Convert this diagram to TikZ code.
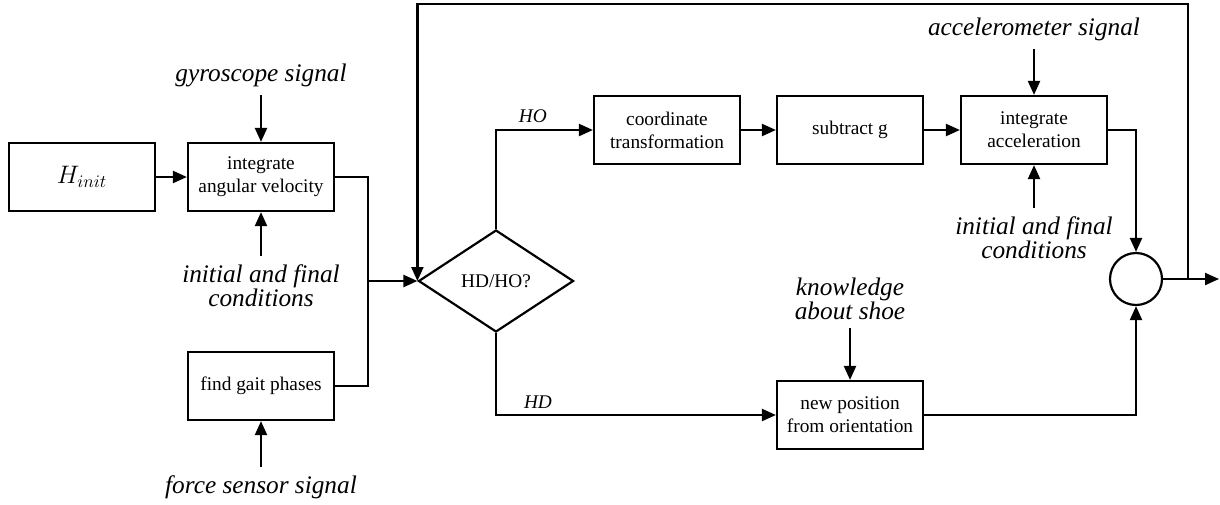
\documentclass[tikz,border=0pt]{standalone}
\usepackage{fontspec}
\setmainfont{Liberation Serif}
\usepackage{tikz}
\usetikzlibrary{arrows.meta, shapes.geometric, positioning}
\tikzset{
  blk/.style={draw, line width=1.25pt, minimum width=29.2mm, minimum height=13.6mm,
    align=center, font=\fontsize{11}{13}\selectfont},
  sig/.style={align=center, inner sep=1.6mm, font=\itshape\fontsize{14.4}{13.8}\selectfont},
  arr/.style={line width=1.25pt, -{Triangle[length=2.8mm, width=2.4mm]}},
  wire/.style={line width=1.25pt}
}

\begin{document}
\begin{tikzpicture}[x=0.2mm, y=-0.2mm]
\useasboundingbox (0,0) rectangle (1220,504);

% Orientation part
\node[blk] (hinit) at (82,177) {\fontsize{14}{16}\selectfont$H_{init}$};
\node[blk] (intang) at (261,177) {integrate\\angular velocity};
\node[blk] (gait) at (261,386) {find gait phases};
\node[sig] (gyro) at (261,75) {gyroscope signal};
\node[sig] (icl) at (261,286) {initial and final\\conditions};
\node[sig] (force) at (261,487) {force sensor signal};

% Decision
\node[draw, diamond, line width=1.25pt, minimum width=31mm, minimum height=20.4mm,
  inner sep=0pt, aspect=1.5, font=\fontsize{11}{13}\selectfont] (decide) at (496,281) {HD/HO?};
\coordinate (join) at (368,281);

% Upper branch (HO)
\node[blk] (coord) at (667,130) {coordinate\\transformation};
\node[blk] (subg) at (850,130) {subtract g};
\node[blk] (intacc) at (1034,130) {integrate\\acceleration};
\node[sig] (accs) at (1034,29) {accelerometer signal};
\node[sig] (icr) at (1034,238) {initial and final\\conditions};

% Lower branch (HD)
\node[blk] (newpos) at (850,415) {new position\\from orientation};
\node[sig] (know) at (850,299) {knowledge\\about shoe};

% Sum and output
\node[draw, circle, line width=1.25pt, minimum size=10.4mm, inner sep=0pt] (sum) at (1136,279) {};
\coordinate (fb) at (1188,279);
\coordinate (topr) at (1188,4);
\coordinate (out) at (1219,279);

% Connections
\draw[arr] (hinit) -- (intang);
\draw[arr] (gyro) -- (intang);
\draw[arr] (icl) -- (intang);
\draw[arr] (force) -- (gait);
\draw[wire] (intang.east) -| (join);
\draw[wire] (gait.east) -| (join);
\draw[arr] (join) -- (decide.west);
\draw[arr] (decide.north) |- node[above, pos=0.69, font=\itshape\fontsize{11}{13}\selectfont] {HO} (coord.west);
\draw[arr] (decide.south) |- node[above, pos=0.575, font=\itshape\fontsize{11}{13}\selectfont] {HD} (newpos.west);
\draw[arr] (coord) -- (subg);
\draw[arr] (subg) -- (intacc);
\draw[arr] (accs) -- (intacc);
\draw[arr] (icr) -- (intacc);
\draw[arr] (know) -- (newpos);
\draw[arr] (intacc.east) -| (sum.north);
\draw[arr] (newpos.east) -| (sum.south);
\draw[arr] (sum.east) -- (out);
\draw[arr] (fb) -- (topr) -| (decide.west);
\end{tikzpicture}
\end{document}
